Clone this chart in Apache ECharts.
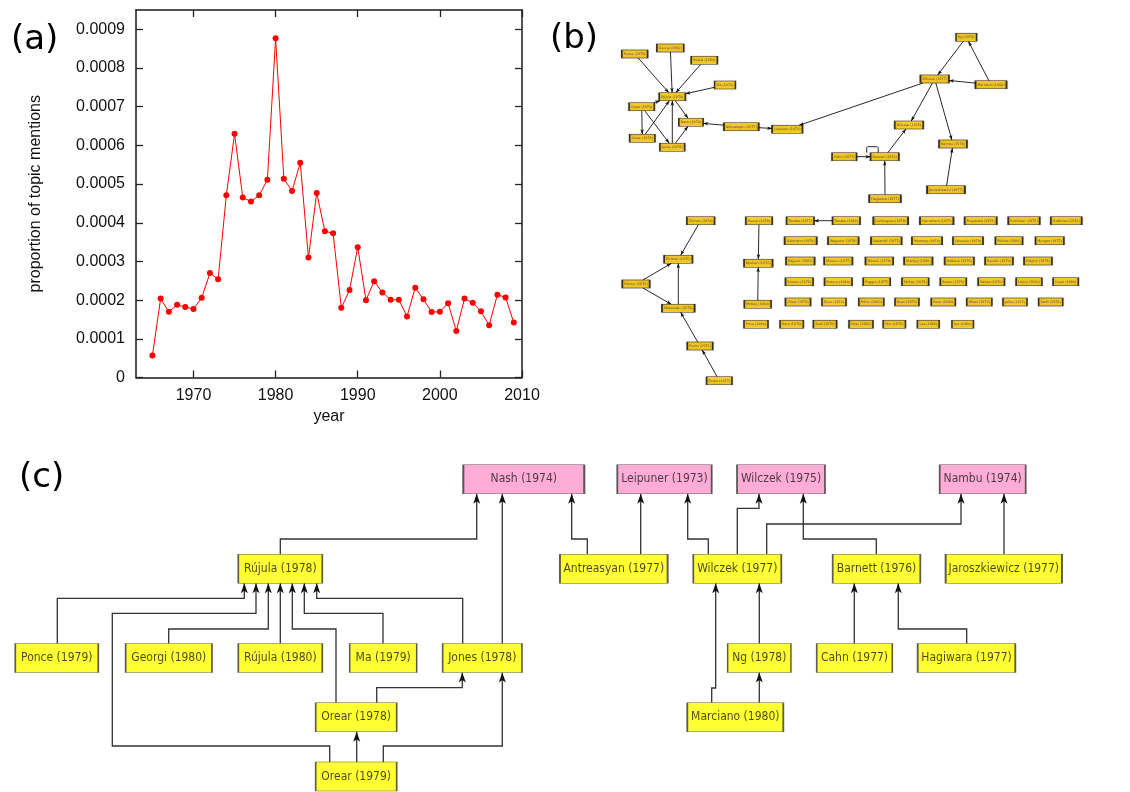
<!DOCTYPE html>
<html><head><meta charset="utf-8">
<script src="https://cdn.jsdelivr.net/npm/echarts@6/dist/echarts.min.js"></script>
<style>html,body{margin:0;padding:0;background:#fff}#main{width:1130px;height:792px}</style>
</head><body><div id="main"></div>
<script>
// ---------------- Panel (a) data ----------------
const years = [1965,1966,1967,1968,1969,1970,1971,1972,1973,1974,1975,1976,1977,1978,1979,1980,1981,1982,1983,1984,1985,1986,1987,1988,1989,1990,1991,1992,1993,1994,1995,1996,1997,1998,1999,2000,2001,2002,2003,2004,2005,2006,2007,2008,2009];
const proportions = [0.000057,0.000204,0.000170,0.000188,0.000182,0.000177,0.000206,0.000270,0.000254,0.000471,0.000630,0.000465,0.000455,0.000471,0.000511,0.000877,0.000514,0.000482,0.000555,0.000310,0.000477,0.000378,0.000373,0.000180,0.000226,0.000337,0.000200,0.000249,0.000220,0.000201,0.000201,0.000158,0.000232,0.000202,0.000169,0.000170,0.000192,0.000120,0.000204,0.000193,0.000171,0.000135,0.000214,0.000207,0.000142];
const xTickLabels = [1970,1980,1990,2000,2010];
const yTickValues = [0,0.0001,0.0002,0.0003,0.0004,0.0005,0.0006,0.0007,0.0008,0.0009];

// ---------------- Panel (b) data: citation network ----------------
const bNodes = ['Ponce (1979)','Georgi (1980)','Rújula (1980)','Ma (1979)','Rújula (1978)','Orear (1979)','Nash (1974)','Antreasyan (1977)','Leipuner (1973)','Orear (1978)','Jones (1978)','Ng (1978)','Wilczek (1977)','Marciano (1980)','Wilczek (1975)','Nambu (1974)','Cahn (1977)','Barnett (1976)','Hagiwara (1977)','Jaroszkiewicz (1977)',
 'Gilman (1974)','Eichten (1975)','Palmer (1976)','Makeenko (1974)','Fuchs (1976)','Fuchs (1977)',
 'Peccei (1979)','Bjorken (1976)','McKay (1980)','Price (1980)',
 'Tanaka (1977)','Tanaka (1980)','Dominguez (1979)','Carruthers (1977)','Preparata (1973)','Schnitzer (1975)','Goldman (1976)',
 'Gohmann (1979)','Wagoner (1979)','Kadanoff (1977)','Montvay (1978)','Gavelick (1979)','Pelissa (1980)','Morgan (1975)',
 'Rajpoot (1980)','Moreno (1977)','Mitsuki (1978)','Stanley (1980)','Halbeck (1979)','Bender (1979)','Halprin (1978)',
 'Brower (1978)','Branco (1980)','Poggio (1977)','McKay (1978)','Rosen (1979)','Sanda (1976)','Lipkin (1980)','Orear (1980)',
 'Chew (1979)','Ersin (1976)','Miller (1980)','Rees (1979)','Kono (1980)','Wiest (1976)','Jahla (1975)','Swift (1979)',
 'Bars (1976)','Beal (1978)','Hess (1980)','Kim (1976)','Lee (1980)','Sur (1980)'];
const bEdges = [
 ['Ponce (1979)','Rújula (1978)'],['Georgi (1980)','Rújula (1978)'],['Rújula (1980)','Rújula (1978)'],['Ma (1979)','Rújula (1978)'],
 ['Orear (1979)','Rújula (1978)'],['Orear (1978)','Rújula (1978)'],['Jones (1978)','Rújula (1978)'],
 ['Rújula (1978)','Nash (1974)'],['Jones (1978)','Nash (1974)'],['Orear (1979)','Orear (1978)'],['Orear (1979)','Jones (1978)'],
 ['Antreasyan (1977)','Nash (1974)'],['Antreasyan (1977)','Leipuner (1973)'],['Wilczek (1977)','Leipuner (1973)'],
 ['Ng (1978)','Wilczek (1977)'],['Marciano (1980)','Ng (1978)'],['Marciano (1980)','Wilczek (1977)'],
 ['Wilczek (1977)','Wilczek (1975)'],['Wilczek (1977)','Nambu (1974)'],['Barnett (1976)','Wilczek (1975)'],
 ['Cahn (1977)','Barnett (1976)'],['Hagiwara (1977)','Barnett (1976)'],['Jaroszkiewicz (1977)','Nambu (1974)'],
 ['Gilman (1974)','Eichten (1975)'],['Palmer (1976)','Eichten (1975)'],['Palmer (1976)','Makeenko (1974)'],
 ['Makeenko (1974)','Eichten (1975)'],['Fuchs (1976)','Makeenko (1974)'],['Fuchs (1977)','Fuchs (1976)'],
 ['Peccei (1979)','Bjorken (1976)'],['McKay (1980)','Bjorken (1976)'],['Tanaka (1980)','Tanaka (1977)']
];
const bSelfLoops = ['Barnett (1976)'];

// ---------------- Panel (c) data: citation tree ----------------
const cCited = ['Nash (1974)','Leipuner (1973)','Wilczek (1975)','Nambu (1974)'];
const cCiting = ['Rújula (1978)','Antreasyan (1977)','Wilczek (1977)','Barnett (1976)','Jaroszkiewicz (1977)','Ponce (1979)','Georgi (1980)','Rújula (1980)','Ma (1979)','Jones (1978)','Ng (1978)','Cahn (1977)','Hagiwara (1977)','Orear (1978)','Marciano (1980)','Orear (1979)'];
const cEdgesList = [
 ['Ponce (1979)','Rújula (1978)'],['Orear (1979)','Rújula (1978)'],['Georgi (1980)','Rújula (1978)'],['Rújula (1980)','Rújula (1978)'],
 ['Orear (1978)','Rújula (1978)'],['Ma (1979)','Rújula (1978)'],['Jones (1978)','Rújula (1978)'],['Rújula (1978)','Nash (1974)'],
 ['Jones (1978)','Nash (1974)'],['Orear (1978)','Jones (1978)'],['Orear (1979)','Orear (1978)'],['Orear (1979)','Jones (1978)'],
 ['Antreasyan (1977)','Nash (1974)'],['Antreasyan (1977)','Leipuner (1973)'],['Wilczek (1977)','Leipuner (1973)'],
 ['Wilczek (1977)','Wilczek (1975)'],['Wilczek (1977)','Nambu (1974)'],['Barnett (1976)','Wilczek (1975)'],
 ['Jaroszkiewicz (1977)','Nambu (1974)'],['Marciano (1980)','Wilczek (1977)'],['Ng (1978)','Wilczek (1977)'],
 ['Marciano (1980)','Ng (1978)'],['Cahn (1977)','Barnett (1976)'],['Hagiwara (1977)','Barnett (1976)']
];

// ---------------- Diagram layouts (positions/sizes, kept apart from data) ----------------
const bLayout = {
 'Ponce (1979)':[634.7,54],'Georgi (1980)':[670.3,48],'Rújula (1980)':[704.3,60.3],'Ma (1979)':[725,85],'Rújula (1978)':[672.3,96.7],
 'Orear (1979)':[641.7,106.7],'Nash (1974)':[691,122.3],'Antreasyan (1977)':[741.3,126.7],'Leipuner (1973)':[787.3,129.3],
 'Orear (1978)':[642.3,138.3],'Jones (1978)':[672.3,147.3],'Ng (1978)':[966.3,37.3],'Wilczek (1977)':[934.7,79],
 'Marciano (1980)':[991,84.7],'Wilczek (1975)':[909,125],'Nambu (1974)':[953,144],'Cahn (1977)':[844.3,156.7],
 'Barnett (1976)':[884.7,156.7],'Hagiwara (1977)':[885,198.7],'Jaroszkiewicz (1977)':[946,189.7],
 'Gilman (1974)':[700.7,220.7],'Eichten (1975)':[678.3,259.3],'Palmer (1976)':[636,284],'Makeenko (1974)':[678.3,308.3],
 'Fuchs (1976)':[700,346],'Fuchs (1977)':[719.3,380.7],
 'Peccei (1979)':[759,220.7],'Bjorken (1976)':[758.3,263.3],'McKay (1980)':[757.7,304.3],'Price (1980)':[756,324.3],
 'Tanaka (1977)':[800.3,220.7],'Tanaka (1980)':[846.3,220.7],'Dominguez (1979)':[890.7,220.7],'Carruthers (1977)':[936.7,220.7],
 'Preparata (1973)':[980.7,220.7],'Schnitzer (1975)':[1024,220.7],'Goldman (1976)':[1066.3,220.7],
 'Gohmann (1979)':[800.7,240.7],'Wagoner (1979)':[843.3,240.7],'Kadanoff (1977)':[886.3,240.7],'Montvay (1978)':[927,240.7],
 'Gavelick (1979)':[968,240.7],'Pelissa (1980)':[1009,240.7],'Morgan (1975)':[1049.7,240.7],
 'Rajpoot (1980)':[800.3,261],'Moreno (1977)':[838.3,261],'Mitsuki (1978)':[879.3,261],'Stanley (1980)':[918.3,261],
 'Halbeck (1979)':[959.3,261],'Bender (1979)':[999,261],'Halprin (1978)':[1038,261],
 'Brower (1978)':[799.3,281.7],'Branco (1980)':[838.3,281.7],'Poggio (1977)':[876.7,281.7],'McKay (1978)':[915.3,281.7],
 'Rosen (1979)':[953.3,281.7],'Sanda (1976)':[991.3,281.7],'Lipkin (1980)':[1029,281.7],'Orear (1980)':[1065.7,281.7],
 'Chew (1979)':[798,302],'Ersin (1976)':[834,302],'Miller (1980)':[871.3,302],'Rees (1979)':[907,302],
 'Kono (1980)':[943.3,302],'Wiest (1976)':[979.3,302],'Jahla (1975)':[1015,302],'Swift (1979)':[1050.7,302],
 'Bars (1976)':[791.7,324.3],'Beal (1978)':[825,324.3],'Hess (1980)':[861,324.3],'Kim (1976)':[894.3,324.3],
 'Lee (1980)':[928.3,324.3],'Sur (1980)':[962.7,324.3]
};
const cRowY = [479.2, 568.8, 658, 717.2, 776.5];
const cBoxH = 29;
// name -> [centre x, row, box width]
const cLayout = {
 'Nash (1974)':[523.8,0,121],'Leipuner (1973)':[664.5,0,94.4],'Wilczek (1975)':[781,0,88],'Nambu (1974)':[982.7,0,86],
 'Rújula (1978)':[280.3,1,84],'Antreasyan (1977)':[613.8,1,107.7],'Wilczek (1977)':[737.3,1,88],'Barnett (1976)':[876.5,1,87.6],
 'Jaroszkiewicz (1977)':[1003.8,1,116.3],'Ponce (1979)':[56.8,2,83],'Georgi (1980)':[168.8,2,86.3],'Rújula (1980)':[280.3,2,84],
 'Ma (1979)':[383.2,2,67],'Jones (1978)':[482.3,2,79.3],'Ng (1978)':[759.3,2,63.3],'Cahn (1977)':[854.5,2,75.6],
 'Hagiwara (1977)':[966.5,2,97.6],'Orear (1978)':[356.2,3,81],'Marciano (1980)':[735.3,3,96],'Orear (1979)':[356.2,4,81]
};
// orthogonal routes: [x at source, bend y, x, bend y, x, ...]
const cRoutes = [
 [57.3,598.3,244.3],[329.7,746,112.3,613.3,256],[168.7,629,268.3],[280.3],
 [336,629,292.3],[383,613.3,304.3],[462.7,598.3,316.7],[280.3,539,476.7],
 [502.3],[376.7,687.7,462.3],[356.7],[383.3,746,502.3],
 [587.3,539,571.7],[640.7],[708.3,539,687.7],
 [737.3,508.3,759],[766.7,524,961],[876.3,539,803.3],
 [1004],[711.7,688,715.7],[759.3],
 [759.3],[854.3],[966.7,629,898.3]
];

// ---------------- build ----------------
const DIAG_FONT = '"DejaVu Sans Condensed", "DejaVu Sans", sans-serif';
const PLOT_FONT = '"Liberation Sans", Arial, sans-serif';
const mctx = document.createElement('canvas').getContext('2d');
function textW(t, size){ mctx.font = size + 'px "DejaVu Sans"'; return mctx.measureText(t).width; }
const ARROW = 'path://M0,0M10,0M5,0L8.5,10L5,7.5L1.5,10Z';

// panel (b)
const B_FS = 3.3, B_H = 8;
const bSize = {};
bNodes.forEach(n => { bSize[n] = [textW(n, B_FS) + 4, B_H]; });
function clip(c, o, sz){
  const dx = o[0]-c[0], dy = o[1]-c[1];
  const tx = dx === 0 ? Infinity : (sz[0]/2)/Math.abs(dx);
  const ty = dy === 0 ? Infinity : (sz[1]/2)/Math.abs(dy);
  const t = Math.min(tx, ty);
  return [c[0]+dx*t, c[1]+dy*t];
}
const bLines = [], bHeads = [];
bEdges.forEach(([s,t]) => {
  const a = bLayout[s], b = bLayout[t];
  const p0 = clip(a, b, bSize[s]), p1 = clip(b, a, bSize[t]);
  const L = Math.hypot(p1[0]-p0[0], p1[1]-p0[1]);
  const ux = (p1[0]-p0[0])/L, uy = (p1[1]-p0[1])/L;
  bLines.push({coords:[p0, p1]});
  bHeads.push({coords:[[p1[0]-ux*3, p1[1]-uy*3],[p1[0]-ux*2.5, p1[1]-uy*2.5]]});
});
bSelfLoops.forEach(n => {
  const c = bLayout[n], top = c[1]-B_H/2;
  bLines.push({coords:[[c[0]-18,top],[c[0]-18,top-5],[c[0]-17,top-6],[c[0]-7.5,top-6],[c[0]-6.5,top-5],[c[0]-6.5,top]]});
});
const bNodeData = bNodes.map(n => ({name:n, value:bLayout[n], symbolSize:bSize[n]}));

// panel (c)
const cPaths = [], cHeads = [];
cEdgesList.forEach(([s,t], i) => {
  const spec = cRoutes[i];
  const sy = cRowY[cLayout[s][1]] - cBoxH/2;
  const ty = cRowY[cLayout[t][1]] + cBoxH/2;
  let x = spec[0];
  const pts = [[x, sy]];
  for (let k = 1; k < spec.length; k += 2){ pts.push([x, spec[k]]); x = spec[k+1]; pts.push([x, spec[k]]); }
  pts.push([x, ty]);
  cPaths.push({coords: pts});
  cHeads.push({coords: [[x, ty+7],[x, ty+5]]});
});
const cNodeData = cCited.concat(cCiting).map(n => ({
  name: n, value: [cLayout[n][0], cRowY[cLayout[n][1]]], symbolSize: [cLayout[n][2], cBoxH],
  itemStyle: {color: cCited.includes(n) ? '#ff99cc' : '#ffff00'}
}));

const chart = echarts.init(document.getElementById('main'), null, {renderer:'canvas'});
const axisDark = {onZero:false, lineStyle:{color:'#1a1a1a', width:1.5}};
const tickStyle = {color:'#222', width:1.3};
chart.setOption({
  animation: false,
  backgroundColor: '#fff',
  grid: [
    {left:136, top:10, width:386, height:367.5, show:false},
    {left:0, top:0, width:1130, height:792, show:false}
  ],
  xAxis: [
    {gridIndex:0, type:'value', min:1963, max:2010, position:'bottom',
     axisLine:axisDark, splitLine:{show:false},
     axisTick:{inside:true, length:7, customValues:xTickLabels, lineStyle:tickStyle},
     axisLabel:{customValues:xTickLabels, fontSize:16, color:'#111', fontFamily:PLOT_FONT, margin:10, formatter: v => String(v)},
     name:'year', nameLocation:'middle', nameGap:31, nameTextStyle:{fontSize:16, color:'#111', fontFamily:PLOT_FONT}},
    {gridIndex:0, type:'value', min:1963, max:2010, position:'top',
     axisLine:axisDark, splitLine:{show:false},
     axisTick:{inside:true, length:7, customValues:xTickLabels, lineStyle:tickStyle},
     axisLabel:{show:false}},
    {gridIndex:1, type:'value', min:0, max:1130, show:false}
  ],
  yAxis: [
    {gridIndex:0, type:'value', min:0, max:0.00095, position:'left',
     axisLine:{show:true, onZero:false, lineStyle:{color:'#1a1a1a', width:1.5}}, splitLine:{show:false},
     axisTick:{show:true, inside:true, length:7, customValues:yTickValues, lineStyle:tickStyle},
     axisLabel:{customValues:yTickValues, fontSize:16, color:'#111', fontFamily:PLOT_FONT, margin:11,
       formatter: v => v === 0 ? '0' : v.toFixed(4)},
     name:'proportion of topic mentions', nameLocation:'middle', nameGap:92,
     nameTextStyle:{fontSize:16, color:'#111', fontFamily:PLOT_FONT}},
    {gridIndex:0, type:'value', min:0, max:0.00095, position:'right',
     axisLine:{show:true, onZero:false, lineStyle:{color:'#1a1a1a', width:1.5}}, splitLine:{show:false},
     axisTick:{show:true, inside:true, length:7, customValues:yTickValues, lineStyle:tickStyle},
     axisLabel:{show:false}},
    {gridIndex:1, type:'value', min:0, max:792, inverse:true, show:false}
  ],
  graphic: [
    {type:'text', style:{text:'(a)', x:11, y:40, verticalAlign:'middle', font:'34px "DejaVu Sans"', fill:'#000'}},
    {type:'text', style:{text:'(b)', x:550, y:39, verticalAlign:'middle', font:'34px "DejaVu Sans"', fill:'#000'}},
    {type:'text', style:{text:'(c)', x:19, y:478, verticalAlign:'middle', font:'34px "DejaVu Sans"', fill:'#000'}}
  ],
  series: [
    {type:'line', xAxisIndex:0, yAxisIndex:0, data: years.map((y,i)=>[y, proportions[i]]),
     symbol:'circle', symbolSize:6, showAllSymbol:true, lineStyle:{color:'#ff0000', width:1},
     itemStyle:{color:'#ff0000'}, z:3},
    // panel (b)
    {type:'lines', coordinateSystem:'cartesian2d', xAxisIndex:2, yAxisIndex:2, polyline:true,
     data:bLines, lineStyle:{color:'#111', width:0.9, opacity:1}, z:2},
    {type:'lines', coordinateSystem:'cartesian2d', xAxisIndex:2, yAxisIndex:2,
     data:bHeads, symbol:['none', ARROW], symbolSize:[0,5], lineStyle:{color:'#111', width:0.5, opacity:1}, z:2},
    {type:'scatter', xAxisIndex:2, yAxisIndex:2, data:bNodeData, symbol:'rect',
     itemStyle:{color:'#ffc800', borderColor:'#111', borderWidth:0.9, shadowBlur:1.5, shadowColor:'rgba(0,0,0,0.35)'},
     label:{show:true, position:'inside', formatter:'{b}', fontSize:B_FS, color:'#333', fontFamily:'"DejaVu Sans"'}, z:4},
    // panel (c)
    {type:'lines', coordinateSystem:'cartesian2d', xAxisIndex:2, yAxisIndex:2, polyline:true,
     data:cPaths, lineStyle:{color:'#333', width:1.3, opacity:1}, z:2},
    {type:'lines', coordinateSystem:'cartesian2d', xAxisIndex:2, yAxisIndex:2,
     data:cHeads, symbol:['none', ARROW], symbolSize:[0,10], lineStyle:{color:'#111', width:1, opacity:1}, z:2},
    {type:'scatter', xAxisIndex:2, yAxisIndex:2, data:cNodeData, symbol:'rect',
     itemStyle:{borderColor:'#333', borderWidth:1},
     label:{show:true, position:'inside', formatter:'{b}', fontSize:12, color:'#1a1a1a', fontFamily:DIAG_FONT}, z:4}
  ]
});
</script></body></html>
